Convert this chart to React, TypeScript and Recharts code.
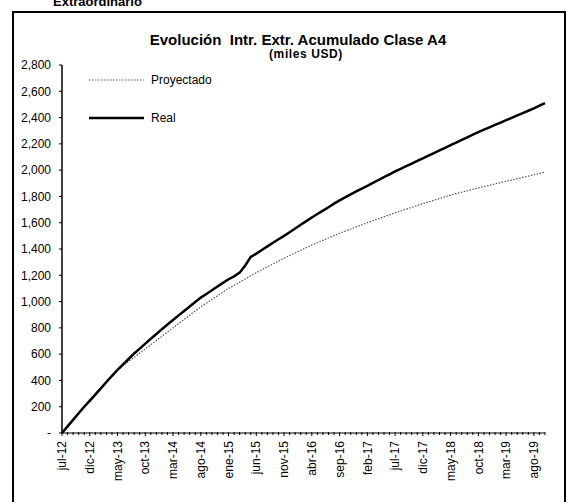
import { LineChart, Line, XAxis, YAxis } from 'recharts'

const FONT = '"Liberation Sans", Arial, Helvetica, sans-serif'

const months = [
  'jul-12', 'ago-12', 'sep-12', 'oct-12', 'nov-12', 'dic-12',
  'ene-13', 'feb-13', 'mar-13', 'abr-13', 'may-13', 'jun-13', 'jul-13', 'ago-13', 'sep-13', 'oct-13', 'nov-13', 'dic-13',
  'ene-14', 'feb-14', 'mar-14', 'abr-14', 'may-14', 'jun-14', 'jul-14', 'ago-14', 'sep-14', 'oct-14', 'nov-14', 'dic-14',
  'ene-15', 'feb-15', 'mar-15', 'abr-15', 'may-15', 'jun-15', 'jul-15', 'ago-15', 'sep-15', 'oct-15', 'nov-15', 'dic-15',
  'ene-16', 'feb-16', 'mar-16', 'abr-16', 'may-16', 'jun-16', 'jul-16', 'ago-16', 'sep-16', 'oct-16', 'nov-16', 'dic-16',
  'ene-17', 'feb-17', 'mar-17', 'abr-17', 'may-17', 'jun-17', 'jul-17', 'ago-17', 'sep-17', 'oct-17', 'nov-17', 'dic-17',
  'ene-18', 'feb-18', 'mar-18', 'abr-18', 'may-18', 'jun-18', 'jul-18', 'ago-18', 'sep-18', 'oct-18', 'nov-18', 'dic-18',
  'ene-19', 'feb-19', 'mar-19', 'abr-19', 'may-19', 'jun-19', 'jul-19', 'ago-19', 'sep-19', 'oct-19',
]

// miles USD, acumulado
const proyectado = [
  0, 52, 104, 155, 205, 255,
  300, 345, 392, 436, 480, 512, 545, 575, 608, 640, 672, 704,
  736, 768, 800, 832, 864, 896, 928, 960, 988, 1016, 1044, 1072,
  1100, 1124, 1148, 1172, 1196, 1220, 1242, 1264, 1286, 1308, 1330, 1350,
  1370, 1390, 1410, 1430, 1448, 1466, 1484, 1502, 1520, 1536, 1552, 1568,
  1584, 1600, 1615, 1630, 1645, 1660, 1675, 1689, 1703, 1717, 1731, 1745,
  1758, 1771, 1784, 1797, 1810, 1821, 1832, 1843, 1854, 1865, 1875, 1885,
  1895, 1905, 1915, 1925, 1935, 1945, 1955, 1965, 1975, 1985,
]

const real = [
  0, 50, 100, 150, 200, 245,
  292, 340, 388, 435, 480, 522, 563, 605, 642, 680, 717, 753,
  790, 825, 860, 895, 928, 962, 996, 1030, 1058, 1086, 1115, 1142,
  1170, 1192, 1220, 1275, 1340, 1365, 1392, 1420, 1448, 1474, 1500, 1528,
  1556, 1585, 1612, 1640, 1666, 1692, 1718, 1745, 1770, 1792, 1815, 1838,
  1860, 1880, 1903, 1925, 1946, 1968, 1990, 2010, 2030, 2050, 2070, 2090,
  2110, 2130, 2150, 2170, 2190, 2210, 2230, 2250, 2270, 2290, 2308, 2326,
  2344, 2362, 2380, 2398, 2416, 2434, 2452, 2470, 2490, 2510,
]

const yTicks = [0, 200, 400, 600, 800, 1000, 1200, 1400, 1600, 1800, 2000, 2200, 2400, 2600, 2800]

const chartData = months.map((mes, i) => ({ mes, proyectado: proyectado[i], real: real[i] }))

function MonthTick(props: any) {
  const { x, y, payload, index } = props
  const labeled = index % 5 === 0
  return (
    <g>
      <line x1={x} x2={x} y1={y - 1} y2={y + (labeled ? 3 : 2)} stroke="#000" strokeWidth={1} />
      {labeled && (
        <text
          x={x}
          y={y + 8}
          transform={`rotate(-90, ${x}, ${y + 8})`}
          textAnchor="end"
          dy="0.35em"
          fontSize={12}
          fontFamily={FONT}
          fill="#000"
        >
          {payload.value}
        </text>
      )}
    </g>
  )
}

function LegendBox() {
  const item = (label: string, dashed: boolean, top: number) => (
    <div style={{ position: 'absolute', left: 0, top, display: 'flex', alignItems: 'center', height: 14 }}>
      <svg width={56} height={6}>
        <line
          x1={0}
          x2={55}
          y1={3}
          y2={3}
          stroke={dashed ? '#555' : '#000'}
          strokeWidth={dashed ? 1.2 : 2.5}
          strokeDasharray={dashed ? '1.5 1.5' : undefined}
        />
      </svg>
      <span style={{ marginLeft: 6, fontSize: 12, fontFamily: FONT, color: '#000', whiteSpace: 'nowrap' }}>{label}</span>
    </div>
  )
  return (
    <div style={{ position: 'absolute', left: 89, top: 73, width: 140, height: 60 }}>
      {item('Proyectado', true, 0)}
      {item('Real', false, 38)}
    </div>
  )
}

export default function App() {
  return (
    <div style={{ position: 'absolute', left: 0, top: 0, width: 566, height: 502, overflow: 'hidden', background: '#fff' }}>
      <div style={{ position: 'absolute', left: 53, top: -6, fontFamily: FONT, fontWeight: 700, fontSize: 13 }}>
        Extraordinario
      </div>
      <div style={{ position: 'absolute', left: 12, top: 11, width: 550, height: 500, border: '2px solid #000' }} />
      <div style={{ position: 'absolute', left: 0, top: 31, width: 596, textAlign: 'center', fontFamily: FONT, fontWeight: 700, fontSize: 15, whiteSpace: 'pre' }}>
        {'Evolución  Intr. Extr. Acumulado Clase A4'}
      </div>
      <div style={{ position: 'absolute', left: 0, top: 47, width: 612, textAlign: 'center', fontFamily: FONT, fontWeight: 700, fontSize: 12, letterSpacing: 0.6 }}>
        (miles USD)
      </div>
      <LineChart
        width={566}
        height={502}
        data={chartData}
        margin={{ top: 65, right: 21, bottom: 9, left: 12 }}
        style={{ position: 'absolute', left: 0, top: 0 }}
      >
        <XAxis
          dataKey="mes"
          interval={0}
          height={60}
          tickSize={0}
          tickMargin={0}
          tickLine={false}
          axisLine={{ stroke: '#000', strokeWidth: 1 }}
          tick={<MonthTick />}
        />
        <YAxis
          width={50}
          domain={[0, 2800]}
          ticks={yTicks}
          interval={0}
          tickSize={3}
          tickMargin={8}
          axisLine={{ stroke: '#000', strokeWidth: 1.5 }}
          tickLine={{ stroke: '#000' }}
          tickFormatter={(v: number) => (v === 0 ? '-' : v.toLocaleString('en-US'))}
          tick={{ fontSize: 12, fill: '#000', fontFamily: FONT }}
        />
        <Line
          type="linear"
          dataKey="proyectado"
          name="Proyectado"
          stroke="#555"
          strokeWidth={1.2}
          strokeDasharray="1.5 1.5"
          dot={false}
          isAnimationActive={false}
        />
        <Line
          type="linear"
          dataKey="real"
          name="Real"
          stroke="#000"
          strokeWidth={2.5}
          dot={false}
          isAnimationActive={false}
        />
      </LineChart>
      <LegendBox />
    </div>
  )
}
